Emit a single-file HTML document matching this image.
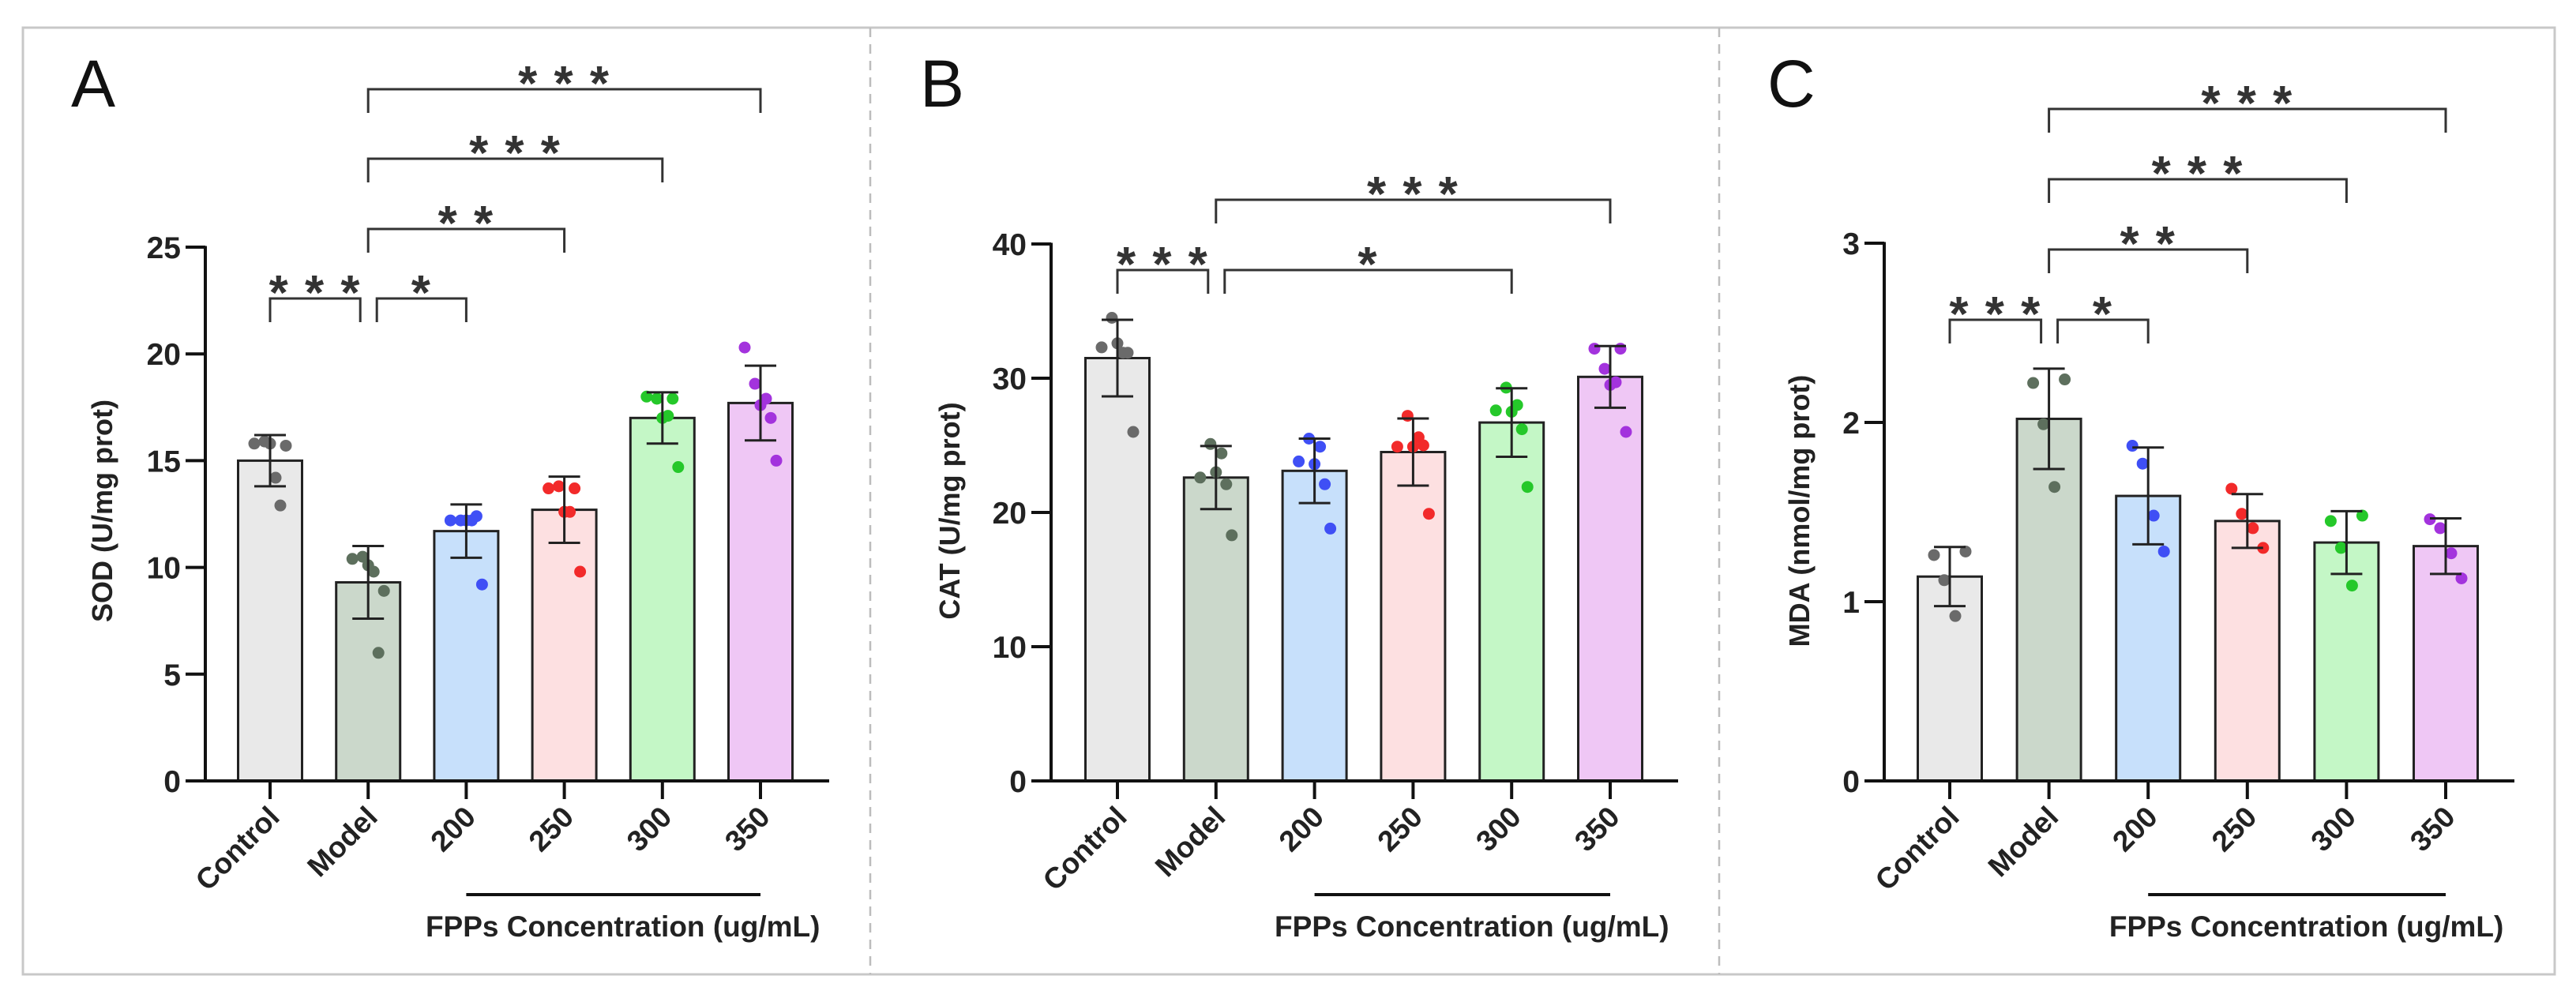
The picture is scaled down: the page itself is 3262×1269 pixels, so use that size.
<!DOCTYPE html>
<html><head><meta charset="utf-8"><style>
html,body{margin:0;padding:0;background:#fff;}
svg{display:block;font-family:"Liberation Sans",sans-serif;}
</style></head><body>
<svg id="fig" width="3262" height="1269" viewBox="0 0 3262 1269" xmlns="http://www.w3.org/2000/svg">
<rect x="29" y="35" width="3206" height="1199" fill="none" stroke="#c8c8c8" stroke-width="3"/>
<line x1="1102" y1="35" x2="1102" y2="1234" stroke="#bdbdbd" stroke-width="2.5" stroke-dasharray="12,9"/>
<line x1="2177" y1="35" x2="2177" y2="1234" stroke="#bdbdbd" stroke-width="2.5" stroke-dasharray="12,9"/>
</svg>
<script>
const categories = ["Control","Model","200","250","300","350"];
const meansA = [15.0, 9.3, 11.7, 12.7, 17.0, 17.7];
const sdA = [1.2, 1.7, 1.25, 1.55, 1.2, 1.75];
const pointsA = [[15.8,15.9,14.2,15.7,15.8,12.9],[10.4,10.5,9.8,8.9,10.1,6.0],[12.2,12.2,12.2,9.2,12.2,12.4],[13.7,13.8,12.6,9.8,12.6,13.7],[18.0,17.9,17.1,14.7,17.0,17.9],[20.3,18.6,17.9,15.0,17.6,17.0]];
const meansB = [31.5, 22.6, 23.1, 24.5, 26.7, 30.1];
const sdB = [2.85, 2.35, 2.4, 2.5, 2.55, 2.3];
const pointsB = [[32.3,34.5,31.9,26.0,32.6,31.9],[22.6,25.1,24.4,18.3,23.0,22.1],[23.8,25.5,24.9,18.8,23.6,22.1],[24.9,27.2,25.6,19.9,24.9,25.0],[27.6,29.3,28.0,21.9,27.5,26.2],[32.2,30.7,29.7,26.0,29.5,32.2]];
const meansC = [1.14, 2.02, 1.59, 1.45, 1.33, 1.31];
const sdC = [0.165, 0.28, 0.27, 0.15, 0.175, 0.155];
const pointsC = [[1.26,1.12,0.92,1.28],[2.22,1.99,1.64,2.24],[1.87,1.77,1.48,1.28],[1.63,1.49,1.41,1.30],[1.45,1.30,1.09,1.48],[1.46,1.41,1.27,1.13]];
const ticksA = [0,5,10,15,20,25];
const ticksB = [0,10,20,30,40];
const ticksC = [0,1,2,3];
const sigA = [["Control","Model","***"],["Model","200","*"],["Model","250","**"],["Model","300","***"],["Model","350","***"]];
const sigB = [["Control","Model","***"],["Model","300","*"],["Model","350","***"]];
const sigC = [["Control","Model","***"],["Model","200","*"],["Model","250","**"],["Model","300","***"],["Model","350","***"]];

const fills = ["#e9e9e9","#cbd8cb","#c7e0fb","#fde0e1","#c4f7c6","#efc7f5"];
const dots = ["#6a6a6a","#5d6f5d","#3f4ff5","#f22a2a","#25c82a","#a333dd"];
const NS = "http://www.w3.org/2000/svg";
const svg = document.getElementById("fig");
function mk(tag, attrs, parent, txt){
  const e = document.createElementNS(NS, tag);
  for (const k in attrs) e.setAttribute(k, attrs[k]);
  if (txt !== undefined) e.textContent = txt;
  (parent || svg).appendChild(e);
  return e;
}
function panel(cfg){
  const g = mk("g", {});
  
  
  const y = v => cfg.y0 - (v / cfg.max) * (cfg.y0 - cfg.yTop);
  const x = i => cfg.x0 + i * cfg.step;
  const bw = 81;
  const lbl = mk("text", {x: cfg.lx, y: 135, "font-size": 84, fill: "#111"}, g, cfg.letter);
  
  
  cfg.means.forEach((m, i) => {
    const r = mk("rect", {x: x(i) - bw/2, y: y(m), width: bw, height: cfg.y0 - y(m), fill: fills[i], stroke: "#222", "stroke-width": 3}, g);
    
    
  });
  const jit = [-20, -7, 7, 20, 0, 13];
  cfg.points.forEach((arr, i) => {
    arr.forEach((v, j) => {
      const c = mk("circle", {cx: x(i) + jit[j % jit.length], cy: y(v), r: 7.5, fill: dots[i]}, g);
      
      
    });
  });
  cfg.means.forEach((m, i) => {
    const eb = mk("path", {d: `M${x(i)},${y(m - cfg.sd[i])}V${y(m + cfg.sd[i])}M${x(i)-20},${y(m + cfg.sd[i])}h40M${x(i)-20},${y(m - cfg.sd[i])}h40`, stroke: "#222", "stroke-width": 3, fill: "none"}, g);
    
    
  });
  const ya = mk("line", {x1: cfg.ax, y1: cfg.yTop - 1.5, x2: cfg.ax, y2: cfg.y0 + 1.5, stroke: "#111", "stroke-width": 4}, g);
  
  
  const xa = mk("line", {x1: cfg.ax - 25, y1: cfg.y0, x2: cfg.xEnd, y2: cfg.y0, stroke: "#111", "stroke-width": 4}, g);
  
  
  cfg.ticks.forEach(t => {
    const tl = mk("line", {x1: cfg.ax - 25, y1: y(t), x2: cfg.ax, y2: y(t), stroke: "#111", "stroke-width": 4}, g);
    
    
    const tt = mk("text", {x: cfg.ax - 31, y: y(t) + 14, "font-size": 39, "font-weight": "bold", "text-anchor": "end", fill: "#222"}, g, String(t));
    
    
  });
  categories.forEach((c, i) => {
    const tk = mk("line", {x1: x(i), y1: cfg.y0, x2: x(i), y2: cfg.y0 + 23, stroke: "#111", "stroke-width": 4}, g);
    
    
    const tx = x(i) + 14, ty = cfg.y0 + 48;
    const ct = mk("text", {x: tx, y: ty, "font-size": 37, "font-weight": "bold", "text-anchor": "end", fill: "#222", transform: `rotate(-45 ${tx} ${ty})`}, g, c);
    
    
  });
  const yt = mk("text", {x: cfg.tx, y: 647, "font-size": 36, "font-weight": "bold", "text-anchor": "middle", fill: "#222", transform: `rotate(-90 ${cfg.tx} 647)`, dy: 12}, g, cfg.title);
  
  
  const fl = mk("line", {x1: x(2), y1: 1133, x2: x(5), y2: 1133, stroke: "#111", "stroke-width": 4}, g);
  
  
  const ft = mk("text", {x: (x(2) + x(5)) / 2 + 12, y: 1186, "font-size": 37, "font-weight": "bold", "text-anchor": "middle", fill: "#222"}, g, "FPPs Concentration (ug/mL)");
  
  
  cfg.sig.forEach((s, k) => {
    const a = categories.indexOf(s[0]), b = categories.indexOf(s[1]);
    let x1 = x(a), x2 = x(b);
    if (s[0] === "Control") x2 -= 10;
    else if (b === a + 1 || cfg.shiftLeft.includes(s[1])) x1 += 11;
    const by = cfg.levels[k];
    const br = mk("path", {d: `M${x1},${by + 30}V${by}H${x2}V${by + 30}`, stroke: "#333", "stroke-width": 3, fill: "none"}, g);
    
    
    const st = mk("text", {x: (x1 + x2) / 2, y: by + 14, "font-size": 62, "font-weight": "bold", "text-anchor": "middle", fill: "#333", "letter-spacing": 2}, g, s[2].split("").join(" "));
    
    
  });
}
panel({name:"panel-a-sod", letter:"A", lx:90, x0:342, step:124.2, ax:260, xEnd:1050, y0:989, yTop:313, max:25,
  means:meansA, sd:sdA, points:pointsA, ticks:ticksA, title:"SOD (U/mg prot)", tx:130, sig:sigA,
  levels:[378,378,290,201,113], shiftLeft:[]});
panel({name:"panel-b-cat", letter:"B", lx:1165, x0:1415, step:124.8, ax:1331, xEnd:2125, y0:989, yTop:309, max:40,
  means:meansB, sd:sdB, points:pointsB, ticks:ticksB, title:"CAT (U/mg prot)", tx:1203, sig:sigB,
  levels:[342,342,253], shiftLeft:["300"]});
panel({name:"panel-c-mda", letter:"C", lx:2238, x0:2469, step:125.6, ax:2386, xEnd:3184, y0:989, yTop:308, max:3,
  means:meansC, sd:sdC, points:pointsC, ticks:ticksC, title:"MDA (nmol/mg prot)", tx:2279, sig:sigC,
  levels:[405,405,316,227,138], shiftLeft:[]});
</script>
</body></html>
